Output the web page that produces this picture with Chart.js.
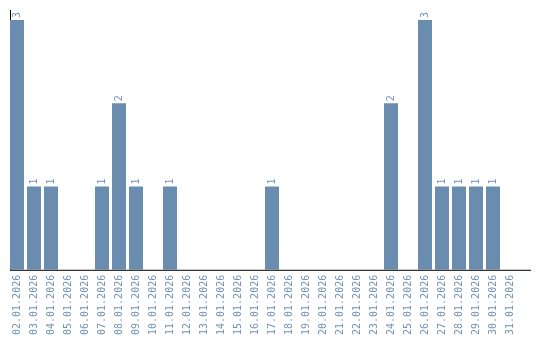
<!DOCTYPE html>
<html><head><meta charset="utf-8">
<script src="https://cdn.jsdelivr.net/npm/chart.js@4/dist/chart.umd.min.js"></script>
<style>html,body{margin:0;padding:0;background:#fff}#wrap{width:540px;height:340px}</style>
</head><body><div id="wrap"><canvas id="c" width="540" height="340"></canvas></div>
<script>
const categories = ["02.01.2026","03.01.2026","04.01.2026","05.01.2026","06.01.2026","07.01.2026","08.01.2026","09.01.2026","10.01.2026","11.01.2026","12.01.2026","13.01.2026","14.01.2026","15.01.2026","16.01.2026","17.01.2026","18.01.2026","19.01.2026","20.01.2026","21.01.2026","22.01.2026","23.01.2026","24.01.2026","25.01.2026","26.01.2026","27.01.2026","28.01.2026","29.01.2026","30.01.2026","31.01.2026"];
const counts = [3,1,1,0,0,1,2,1,0,1,0,0,0,0,0,1,0,0,0,0,0,0,2,0,3,1,1,1,1,0];
const barColor = "#6a8caf";
const textColor = "#7092b4";

const axisLines = {
  id: 'axisLines',
  beforeDatasetsDraw(chart) {
    const ctx = chart.ctx, a = chart.chartArea;
    ctx.save();
    ctx.strokeStyle = '#000'; ctx.lineWidth = 1;
    ctx.beginPath(); ctx.moveTo(10.5, a.top); ctx.lineTo(10.5, a.bottom); ctx.stroke();
    ctx.restore();
  },
  afterDatasetsDraw(chart) {
    const ctx = chart.ctx, a = chart.chartArea;
    ctx.save();
    ctx.strokeStyle = '#000'; ctx.lineWidth = 1;
    ctx.beginPath(); ctx.moveTo(10, a.bottom + 0.5); ctx.lineTo(531, a.bottom + 0.5); ctx.stroke();
    ctx.font = '10px "DejaVu Sans Mono"';
    ctx.fillStyle = textColor;
    const meta = chart.getDatasetMeta(0);
    meta.data.forEach((bar, i) => {
      const v = counts[i];
      if (!v) return;
      ctx.save();
      ctx.translate(bar.x, bar.y - 2);
      ctx.rotate(-Math.PI / 2);
      ctx.textAlign = 'left';
      ctx.textBaseline = 'middle';
      ctx.fillText(String(v), 0, 0);
      ctx.restore();
    });
    ctx.restore();
  }
};

new Chart(document.getElementById('c'), {
  type: 'bar',
  data: { labels: categories, datasets: [{ data: counts, backgroundColor: barColor, barPercentage: 0.8235, categoryPercentage: 1 }] },
  options: {
    responsive: false, animation: false, devicePixelRatio: 1,
    layout: { padding: { left: 8.5, right: 21.5, top: 10, bottom: 0 } },
    plugins: { legend: { display: false }, tooltip: { enabled: false } },
    scales: {
      x: {
        grid: { display: false, drawTicks: false },
        border: { display: false },
        ticks: { color: textColor, font: { family: 'DejaVu Sans Mono', size: 10 }, minRotation: 90, maxRotation: 90, padding: 5, autoSkip: false }
      },
      y: {
        display: false,
        min: 0, max: 3.12
      }
    }
  },
  plugins: [axisLines]
});
</script></body></html>
